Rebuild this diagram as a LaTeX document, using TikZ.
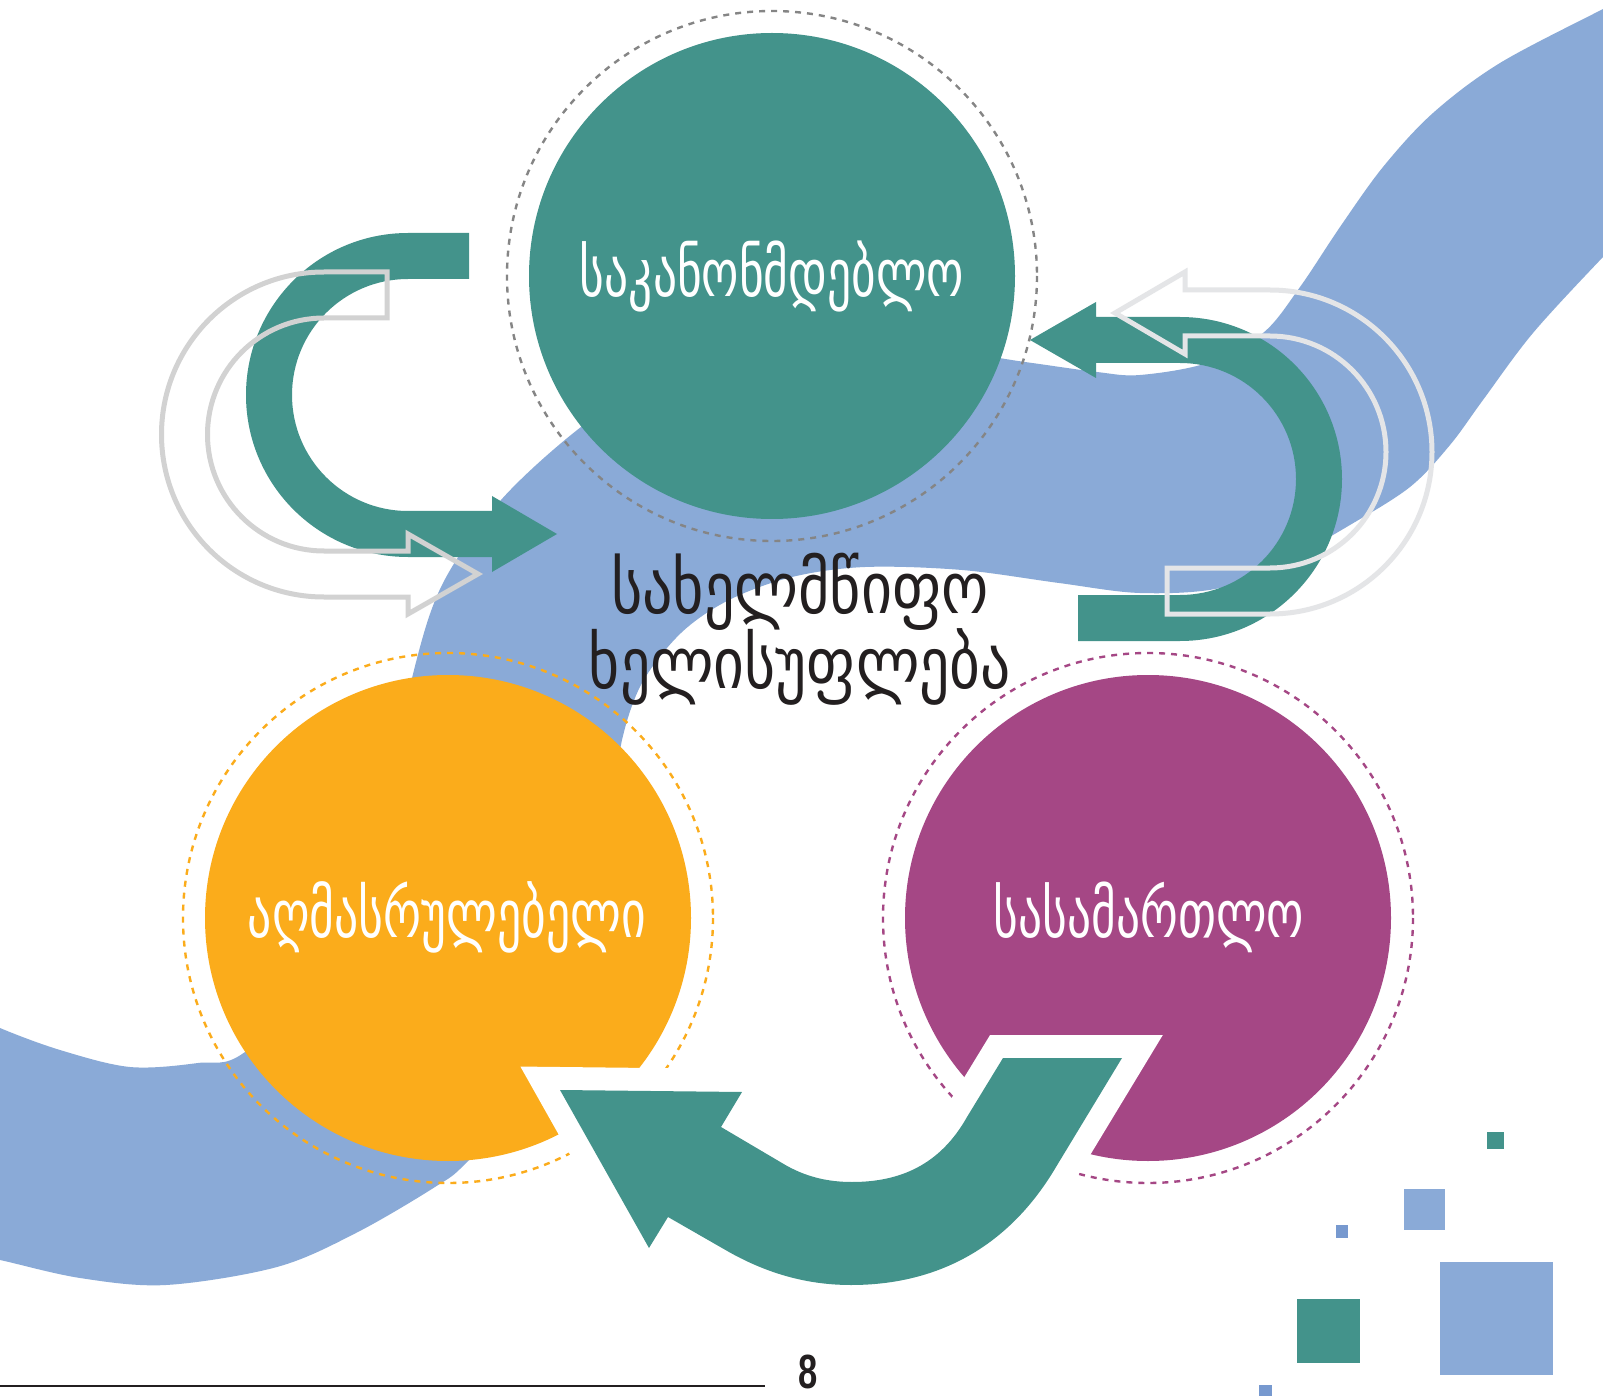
\documentclass[tikz,border=0pt]{standalone}
\usepackage{fontspec}
\usepackage{graphicx}
\setmainfont{DejaVu Sans}
\newfontfamily\geo{DejaVu Sans}
\newfontfamily\numfont{Liberation Sans}
\definecolor{tealc}{HTML}{43938B}
\definecolor{ribbonc}{HTML}{8AAAD7}
\definecolor{orangec}{HTML}{FBAC1B}
\definecolor{purplec}{HTML}{A54785}
\definecolor{ringgray}{HTML}{858585}
\definecolor{outlineA}{HTML}{D2D2D2}
\definecolor{outlineB}{HTML}{E4E5E7}
\definecolor{inkc}{HTML}{231F20}
\definecolor{sqblue}{HTML}{7799CF}
\newcommand{\geotxt}[3][1.4]{\resizebox{#2}{!}{\scalebox{1}[#1]{\geo #3}}}
\begin{document}
\begin{tikzpicture}[x=0.5pt,y=-0.5pt,
  disc/.style={circle, inner sep=0pt, minimum size=243pt},
  ringline/.style={line width=1.2pt, dash pattern=on 3pt off 3pt},
  outl/.style={line width=2.5pt, line join=miter},
  lbl/.style={text=white, inner sep=0pt},
]
\useasboundingbox (0,0) rectangle (1603,1396);
\fill[white] (0,0) rectangle (1603,1396);
\begin{scope}
\clip (0,0) rectangle (1603,1396);
% ribbon
\fill[ribbonc] plot[smooth, tension=0.55] coordinates {
 (1640,-10) (1603,9) (1500,63) (1433,113) (1383,167) (1340,227) (1300,287)
 (1263,333) (1207,363) (1140,375) (1097,372) (1025,362) (900,345) (760,350)
 (650,385) (581,427) (501,500) (443,583) (414,670) (390,790) (340,960)
 (245,1052) (198,1063) (130,1067) (60,1050) (0,1028) (-30,1012)}
 -- plot[smooth, tension=0.55] coordinates {
 (-30,1255) (0,1260) (80,1278) (166,1285) (277,1267) (356,1233) (435,1187)
 (467,1162) (540,1080) (595,930) (615,800) (622,740) (642,683) (681,633)
 (729,600) (792,577) (865,567) (962,570) (1059,583) (1140,593) (1220,588)
 (1287,560) (1350,525) (1410,487) (1450,445) (1483,400) (1533,333)
 (1603,257) (1640,220)} -- cycle;
\end{scope}

% dotted rings
\draw[ringline, ringgray] (772,276) circle[radius=265];
\draw[ringline, orangec] (448,918) circle[radius=265];
\draw[ringline, purplec] (1148,918) circle[radius=265];

% discs
\node[disc, fill=tealc] (leg) at (772,276) {};
\node[disc, fill=orangec] (exe) at (448,918) {};
\node[disc, fill=purplec] (jud) at (1148,918) {};

% left teal C arrow
\fill[tealc] (469,233) -- (408,233) arc[start angle=270, end angle=90, radius=162]
  -- (492,557) -- (492,572) -- (557,534) -- (492,496) -- (492,511) -- (408,511)
  arc[start angle=90, end angle=270, radius=116] -- (469,279) -- cycle;
% right teal C arrow
\fill[tealc] (1078,641) -- (1180,641) arc[start angle=90, end angle=-90, radius=162]
  -- (1096,317) -- (1096,302) -- (1030,340) -- (1096,378) -- (1096,363) -- (1180,363)
  arc[start angle=-90, end angle=90, radius=116] -- (1078,595) -- cycle;

% outline arrows
\draw[outl, outlineA] (387,272) -- (324,272) arc[start angle=270, end angle=90, radius=162.5]
  -- (408,597) -- (408,614) -- (478,574) -- (408,534) -- (408,551) -- (324,551)
  arc[start angle=90, end angle=270, radius=116.5] -- (387,318) -- cycle;
\draw[outl, outlineB] (1167,614) -- (1270,614) arc[start angle=90, end angle=-90, radius=162]
  -- (1185,290) -- (1185,272) -- (1115,313) -- (1185,354) -- (1185,336) -- (1270,336)
  arc[start angle=-90, end angle=90, radius=116] -- (1167,568) -- cycle;

% bottom curved arrow with white border
\def\botarrow{(1122,1058) -- (1003,1058) -- (967,1117)
  .. controls (940,1165) and (900,1182) .. (852,1182)
  .. controls (828,1182) and (805,1177) .. (782,1163)
  -- (721,1127) -- (742,1092) -- (560,1090) -- (649,1248) -- (668,1217) -- (729,1252)
  .. controls (770,1275) and (810,1285) .. (851,1285)
  .. controls (940,1285) and (1010,1245) .. (1056,1167) -- cycle}
\draw[white, line width=23pt, line join=miter] \botarrow;
\fill[tealc] \botarrow;

% labels
\node[lbl] (legt) at (772,277) {\geotxt{192pt}{საკანონმდებლო}};
\node[lbl] (exet) at (447,917) {\geotxt{199pt}{აღმასრულებელი}};
\node[lbl] (judt) at (1149,917) {\geotxt{155pt}{სასამართლო}};
\node[inner sep=0pt, text=inkc, anchor=base] (cent) at (800,688)
  {\vbox{\baselineskip=37pt\lineskiplimit=-100pt\lineskip=0pt
   \halign{\hfil#\hfil\cr
   \geotxt[1.2]{189pt}{სახელმწიფო}\cr
   \geotxt[1.2]{211pt}{ხელისუფლება}\cr}}};

% squares
\fill[tealc] (1487,1132) rectangle (1504,1149);
\fill[ribbonc] (1404,1189) rectangle (1445,1230);
\fill[sqblue] (1336,1225) rectangle (1348,1238);
\fill[tealc] (1297,1299) rectangle (1360,1363);
\fill[ribbonc] (1440,1262) rectangle (1553,1375);
\fill[sqblue] (1259,1385) rectangle (1272,1400);

% footer
\coordinate (ruleA) at (0,1386);
\coordinate (ruleB) at (765,1386);
\draw[inkc, line width=0.75pt] (ruleA) -- (ruleB);
\node[text=inkc, inner sep=0pt] (pg) at (808,1372) {\scalebox{0.72}[1]{\numfont\bfseries\fontsize{24pt}{24pt}\selectfont 8}};
\end{tikzpicture}
\end{document}
